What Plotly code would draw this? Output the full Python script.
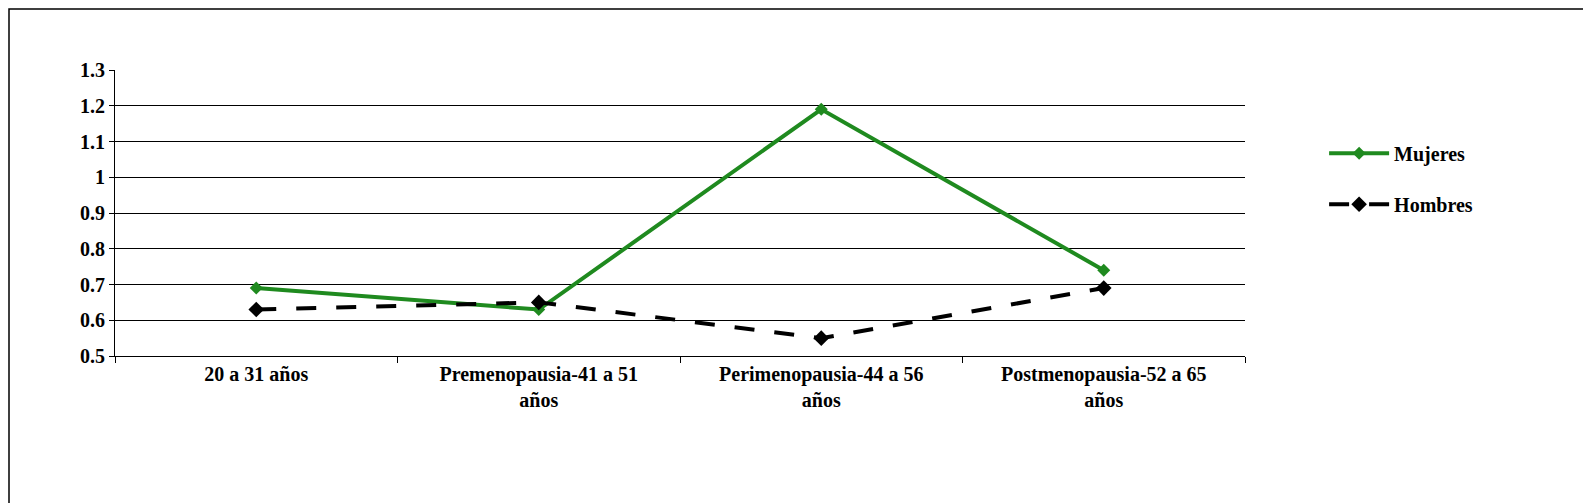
import plotly.graph_objects as go

categories = ["20 a 31 años", "Premenopausia-41 a 51<br>años", "Perimenopausia-44 a 56<br>años", "Postmenopausia-52 a 65<br>años"]
mujeres = [0.69, 0.63, 1.19, 0.74]
hombres = [0.63, 0.65, 0.55, 0.69]

fig = go.Figure()
fig.add_trace(go.Scatter(x=categories, y=mujeres, name="Mujeres", mode="lines+markers", legendgroup="m",
    line=dict(color="#1f8a1f", width=4), marker=dict(symbol="diamond", size=10, color="#1f8a1f")))
fig.add_trace(go.Scatter(x=categories, y=hombres, name="Hombres", mode="lines+markers", legendgroup="h",
    line=dict(color="black", width=4, dash="longdash"), marker=dict(symbol="diamond", size=12, color="black")))

tf = dict(family="Liberation Serif", size=20, color="black", weight="bold")
fig.update_layout(
    width=1591, height=503, paper_bgcolor="white", plot_bgcolor="white",
    margin=dict(l=107, r=354, t=62, b=155),
    xaxis=dict(type="category", range=[-0.5, 3.5], tickson="boundaries", ticks="outside", ticklen=6, tickcolor="black",
               showline=True, linecolor="black", showgrid=False, tickfont=tf),
    yaxis=dict(range=[0.5, 1.3], showline=True, linecolor="black",
               ticks="outside", ticklen=5, tickcolor="black",
               showgrid=True, gridcolor="black", gridwidth=1, zeroline=False, tickfont=tf,
               tickvals=[0.5,0.6,0.7,0.8,0.9,1.0,1.1,1.2,1.3],
               ticktext=["0.5","0.6","0.7","0.8","0.9","1","1.1","1.2","1.3"]),
    legend=dict(x=1.07, y=0.62, xanchor="left", yanchor="middle", tracegroupgap=22,
                font=tf, itemwidth=60),
    shapes=[dict(type="rect", xref="paper", yref="paper", x0=-106/1130, x1=1+352/1130, y0=-154/286, y1=1+61/286,
                 line=dict(color="black", width=1.5))],
)
fig.write_html("out.html")
